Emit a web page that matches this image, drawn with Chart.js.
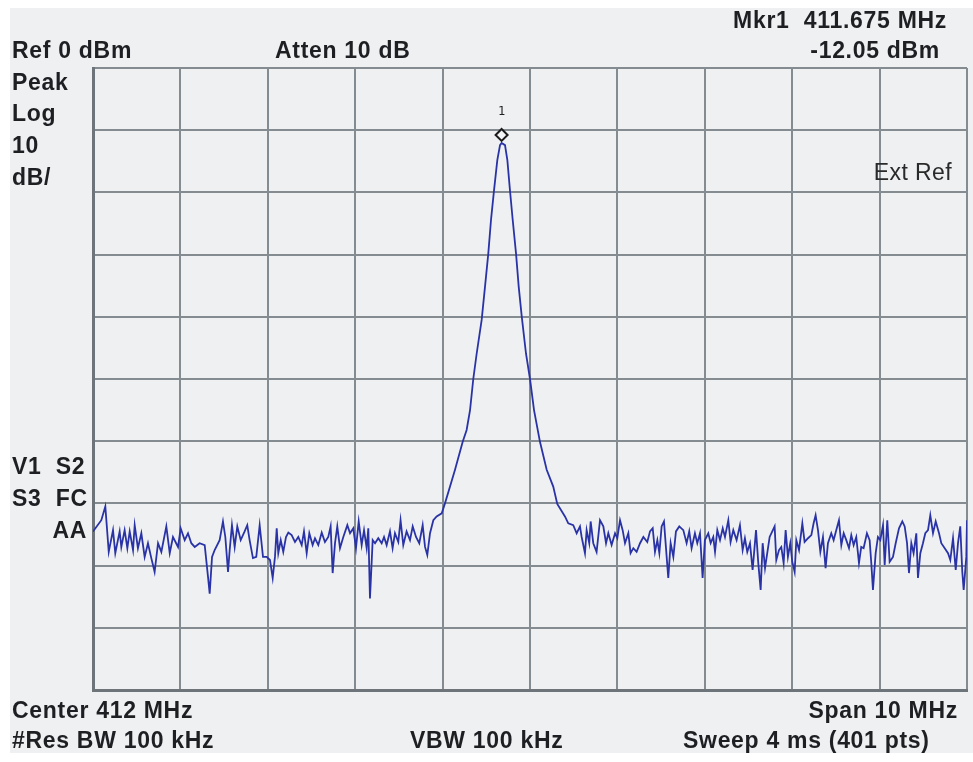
<!DOCTYPE html>
<html>
<head>
    <meta charset="utf-8" />
    <title>Spectrum</title>
    <script src="https://cdn.jsdelivr.net/npm/chart.js"></script>
    <style>
        html, body {
            margin: 0;
            padding: 0;
            background: #ffffff;
        }
        #panel {
            position: absolute;
            left: 10px;
            top: 8px;
            width: 963px;
            height: 745px;
            background: #eef0f2;
        }
        #wrap {
            position: relative;
            width: 973px;
            height: 762px;
        }
        #wrap canvas {
            position: absolute;
            left: 0;
            top: 0;
        }
        .lbl {
            position: absolute;
            font-family: "Liberation Sans", Arial, sans-serif;
            font-weight: bold;
            font-size: 23px;
            line-height: 24px;
            color: #1e1f22;
            white-space: pre;
            letter-spacing: 0.7px;
        }
        .thin {
            font-weight: normal;
            color: #2a2a2a;
            letter-spacing: 0.4px;
        }
    </style>
</head>
<body>
<div id="wrap">
    <div id="panel"></div>
    <canvas id="spectrum" width="973" height="762"></canvas>

    <span class="lbl" style="left:12px; top:38px;">Ref 0 dBm</span>
    <span class="lbl" style="left:275px; top:38px;">Atten 10 dB</span>
    <span class="lbl" style="right:26px; top:8px;">Mkr1  411.675 MHz</span>
    <span class="lbl" style="right:33px; top:38px;">-12.05 dBm</span>

    <span class="lbl" style="left:12px; top:70px;">Peak</span>
    <span class="lbl" style="left:12px; top:101px;">Log</span>
    <span class="lbl" style="left:12px; top:133px;">10</span>
    <span class="lbl" style="left:12px; top:165px;">dB/</span>

    <span class="lbl thin" style="right:21px; top:160px;">Ext Ref</span>

    <span class="lbl" style="left:12px; top:454px;">V1  S2</span>
    <span class="lbl" style="left:12px; top:486px;">S3  FC</span>
    <span class="lbl" style="right:886px; top:518px;">AA</span>

    <span class="lbl" style="left:502px; top:104px; font-size:12px; line-height:14px; font-weight:normal; font-family:'DejaVu Sans Mono', monospace; transform:translateX(-50%);">1</span>

    <span class="lbl" style="left:12px; top:698px;">Center 412 MHz</span>
    <span class="lbl" style="right:15px; top:698px;">Span 10 MHz</span>
    <span class="lbl" style="left:12px; top:728px;">#Res BW 100 kHz</span>
    <span class="lbl" style="left:410px; top:728px;">VBW 100 kHz</span>
    <span class="lbl" style="left:683px; top:728px;">Sweep 4 ms (401 pts)</span>
</div>

<script>
    // frequency axis: center 412 MHz, span 10 MHz
    const freqStart = 407;
    const freqStop = 417;
    // amplitude axis: ref 0 dBm, 10 dB/div
    const refLevel = 0;
    const bottomLevel = -100;

    // marker 1
    const markerFreq = 411.675;
    const markerLevel = -12.05;

    // trace (MHz / dBm)
    const freqMHz = [
        407.000, 407.095, 407.141, 407.180, 407.229, 407.255, 407.305, 407.324, 407.362, 407.393,
        407.420, 407.458, 407.477, 407.514, 407.553, 407.591, 407.629, 407.667, 407.705, 407.744,
        407.782, 407.839, 407.878, 407.915, 407.973, 408.003, 408.049, 408.087, 408.125, 408.164,
        408.220, 408.278, 408.316, 408.335, 408.362, 408.392, 408.449, 408.487, 408.514, 408.545,
        408.564, 408.590, 408.621, 408.651, 408.690, 408.735, 408.765, 408.792, 408.830, 408.868,
        408.907, 408.945, 408.987, 409.025, 409.056, 409.082, 409.102, 409.120, 409.148, 409.177,
        409.208, 409.235, 409.273, 409.311, 409.349, 409.388, 409.414, 409.445, 409.475, 409.513,
        409.540, 409.578, 409.617, 409.654, 409.692, 409.719, 409.742, 409.769, 409.795, 409.826,
        409.864, 409.910, 409.941, 409.978, 410.009, 410.040, 410.074, 410.101, 410.131, 410.150,
        410.169, 410.200, 410.227, 410.264, 410.303, 410.330, 410.360, 410.398, 410.428, 410.455,
        410.493, 410.519, 410.550, 410.588, 410.627, 410.658, 410.696, 410.733, 410.772, 410.799,
        410.825, 410.856, 410.894, 410.932, 410.990, 411.027, 411.085, 411.142, 411.230, 411.275,
        411.314, 411.351, 411.390, 411.447, 411.485, 411.523, 411.554, 411.588, 411.626, 411.657,
        411.675, 411.714, 411.741, 411.771, 411.802, 411.840, 411.871, 411.905, 411.954, 412.000,
        412.046, 412.114, 412.191, 412.266, 412.312, 412.400, 412.438, 412.495, 412.534, 412.572,
        412.591, 412.629, 412.648, 412.678, 412.694, 412.724, 412.762, 412.801, 412.839, 412.870,
        412.896, 412.934, 412.973, 412.999, 413.030, 413.060, 413.087, 413.125, 413.151, 413.182,
        413.220, 413.259, 413.297, 413.342, 413.373, 413.404, 413.430, 413.457, 413.480, 413.506,
        413.533, 413.556, 413.582, 413.609, 413.640, 413.670, 413.708, 413.754, 413.792, 413.822,
        413.849, 413.887, 413.914, 413.945, 413.975, 414.001, 414.040, 414.067, 414.097, 414.117,
        414.143, 414.174, 414.205, 414.231, 414.269, 414.295, 414.326, 414.364, 414.402, 414.433,
        414.459, 414.486, 414.517, 414.547, 414.586, 414.612, 414.639, 414.662, 414.689, 414.742,
        414.772, 414.799, 414.818, 414.849, 414.875, 414.902, 414.925, 414.951, 414.978, 415.001,
        415.028, 415.047, 415.078, 415.116, 415.142, 415.181, 415.219, 415.245, 415.268, 415.295,
        415.322, 415.352, 415.382, 415.409, 415.447, 415.474, 415.504, 415.535, 415.562, 415.589,
        415.619, 415.650, 415.676, 415.703, 415.733, 415.764, 415.790, 415.817, 415.855, 415.886,
        415.905, 415.924, 415.955, 415.981, 416.008, 416.039, 416.058, 416.088, 416.115, 416.153,
        416.184, 416.222, 416.260, 416.287, 416.314, 416.336, 416.363, 416.389, 416.420, 416.439,
        416.466, 416.496, 416.523, 416.554, 416.580, 416.611, 416.642, 416.680, 416.706, 416.745,
        416.783, 416.809, 416.840, 416.871, 416.897, 416.923, 416.946, 416.962, 416.992, 417.000
    ];
    const levelDbm = [
        -74.5, -72.7, -70.5, -77.8, -74.3, -78.0, -74.5, -77.0, -74.3, -77.2,
        -74.5, -77.5, -73.5, -77.2, -74.8, -78.6, -76.4, -78.8, -81.0, -76.4,
        -77.8, -73.7, -78.0, -75.4, -77.0, -74.0, -75.9, -74.8, -76.4, -77.0,
        -76.4, -76.7, -81.8, -84.5, -78.6, -77.5, -75.9, -72.9, -75.4, -81.0,
        -77.5, -73.5, -77.0, -73.7, -75.9, -74.5, -73.5, -75.9, -78.8, -78.6,
        -73.5, -78.6, -78.6, -79.1, -82.0, -78.6, -74.0, -78.0, -75.9, -77.8,
        -75.4, -74.7, -75.1, -76.2, -75.4, -76.7, -74.5, -78.0, -74.8, -76.7,
        -75.6, -76.7, -74.7, -76.2, -75.4, -73.7, -81.2, -76.4, -73.7, -77.2,
        -75.4, -73.5, -74.8, -74.0, -77.2, -72.9, -76.7, -74.3, -77.2, -74.0,
        -85.3, -75.9, -76.4, -75.6, -76.4, -75.4, -76.7, -74.5, -77.2, -74.8,
        -76.2, -72.7, -76.7, -74.5, -75.9, -73.7, -75.4, -76.4, -73.5, -77.0,
        -78.3, -74.8, -72.7, -72.1, -71.6, -70.0, -67.3, -64.6, -60.1, -58.2,
        -55.0, -50.0, -45.9, -40.5, -35.2, -29.8, -24.4, -19.7, -14.8, -12.4,
        -12.05, -12.4, -14.8, -19.7, -24.4, -29.8, -35.2, -39.9, -45.9, -50.0,
        -55.0, -60.1, -64.6, -67.3, -70.1, -72.1, -73.2, -73.5, -74.8, -73.7,
        -75.4, -78.0, -74.3, -76.4, -72.9, -76.4, -77.8, -72.7, -73.7, -76.4,
        -74.8, -76.7, -74.8, -75.6, -72.7, -74.3, -76.4, -74.8, -78.0, -77.2,
        -77.8, -76.4, -75.4, -76.2, -74.5, -74.0, -77.8, -75.9, -78.0, -73.7,
        -72.9, -77.2, -82.0, -76.4, -78.6, -74.5, -73.7, -74.3, -76.4, -74.5,
        -77.2, -74.8, -76.4, -74.8, -82.0, -75.9, -74.8, -76.4, -75.4, -77.8,
        -74.3, -75.9, -74.0, -75.4, -72.7, -76.2, -74.3, -75.9, -73.5, -77.5,
        -75.6, -77.8, -76.4, -80.7, -74.3, -79.6, -83.9, -76.4, -80.4, -75.4,
        -74.5, -73.7, -79.1, -77.5, -77.0, -79.6, -74.3, -78.6, -76.4, -79.4,
        -81.0, -75.9, -77.5, -73.2, -76.2, -75.6, -75.1, -73.2, -71.9, -74.3,
        -77.8, -75.4, -80.4, -76.4, -74.8, -75.9, -74.3, -72.7, -76.7, -74.8,
        -75.9, -77.2, -75.1, -76.7, -75.4, -79.6, -77.0, -77.2, -74.8, -75.9,
        -79.6, -83.9, -78.0, -75.4, -75.9, -73.5, -79.9, -72.7, -79.4, -78.6,
        -76.4, -74.0, -72.9, -73.7, -76.4, -81.2, -76.4, -78.0, -74.8, -82.0,
        -78.0, -76.4, -74.8, -74.3, -71.9, -74.8, -72.9, -74.8, -76.4, -77.2,
        -78.0, -79.1, -75.6, -80.7, -76.4, -73.7, -81.0, -83.9, -78.6, -72.7
    ];

    const tracePoints = freqMHz.map((f, i) => ({ x: f, y: levelDbm[i] }));

    // marker diamond sits just on top of the trace point
    const markerPlugin = {
        id: 'marker',
        afterDatasetsDraw(chart) {
            const c = chart.ctx;
            const px = chart.scales.x.getPixelForValue(markerFreq);
            const py = chart.scales.y.getPixelForValue(markerLevel) - 8;
            const r = 6;
            c.save();
            c.beginPath();
            c.moveTo(px, py - r);
            c.lineTo(px + r, py);
            c.lineTo(px, py + r);
            c.lineTo(px - r, py);
            c.closePath();
            c.fillStyle = '#f4f5f6';
            c.fill();
            c.lineWidth = 2;
            c.strokeStyle = '#1b1b1b';
            c.stroke();
            c.restore();
        }
    };

    const ctx = document.getElementById('spectrum').getContext('2d');
    const chart = new Chart(ctx, {
        type: 'line',
        data: {
            datasets: [
                {
                    label: 'Trace',
                    data: tracePoints,
                    borderColor: '#2a33a6',
                    borderWidth: 1.8,
                    pointRadius: 0,
                    tension: 0,
                    fill: false
                }
            ]
        },
        options: {
            responsive: false,
            animation: false,
            parsing: false,
            layout: {
                padding: { left: 93, top: 68, right: 6, bottom: 72 }
            },
            plugins: {
                legend: { display: false },
                tooltip: { enabled: false }
            },
            scales: {
                x: {
                    type: 'linear',
                    min: freqStart,
                    max: freqStop,
                    ticks: { display: false, stepSize: 1 },
                    grid: { color: '#848b91', lineWidth: 2, drawTicks: false },
                    border: { color: '#6d747a', width: 3 }
                },
                y: {
                    min: bottomLevel,
                    max: refLevel,
                    ticks: { display: false, stepSize: 10 },
                    grid: { color: '#848b91', lineWidth: 2, drawTicks: false },
                    border: { color: '#6d747a', width: 3 }
                }
            }
        },
        plugins: [markerPlugin]
    });
</script>
</body>
</html>
